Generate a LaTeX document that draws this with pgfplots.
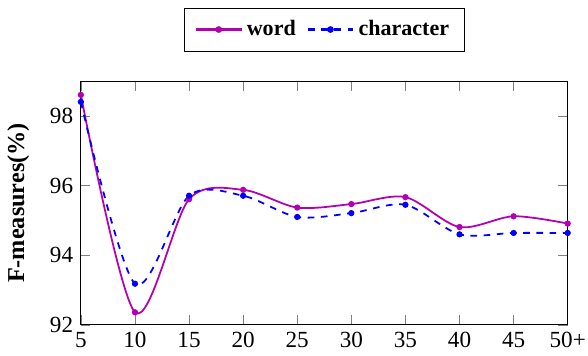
\documentclass[border=0pt]{standalone}
\usepackage{pgfplots}
\pgfplotsset{compat=1.18}
\usepackage{fontspec}
\setmainfont{Liberation Serif}
\definecolor{wordc}{rgb}{0.7,0,0.7}
\begin{document}
\begin{tikzpicture}
\begin{axis}[
  scale only axis,
  width=221pt, height=110.5pt,
  xmin=5, xmax=50, ymin=92, ymax=99,
  xtick={5,10,15,20,25,30,35,40,45,50},
  xticklabels={5,10,15,20,25,30,35,40,45,50+},
  ytick={92,94,96,98},
  /pgf/number format/assume math mode=true,
  tick label style={font=\fontsize{10.5}{12.5}\selectfont},
  xticklabel style={inner xsep=1pt},
  ylabel={\fontsize{11}{13}\selectfont\textbf{F-measures(\%)}},
  ylabel style={yshift=2.5pt},
  legend columns=2,
  legend image code/.code={\draw[line width=1pt,mark repeat=2,mark phase=2] plot coordinates {(0cm,0cm) (0.36cm,0cm) (0.72cm,0cm)};},
  legend style={at={(0.5,1.123)}, anchor=south, font=\bfseries, inner ysep=3.5pt, inner xsep=5pt,
    /tikz/every even column/.append style={column sep=3pt}},
  tick style={gray},
]
\addplot[wordc, thick, smooth, mark=*, mark size=1pt] coordinates {
(5,98.61) (10,92.36) (15,95.61) (20,95.88) (25,95.37) (30,95.47) (35,95.67) (40,94.81) (45,95.12) (50,94.91)
};
\addlegendentry{word}
\addplot[blue, thick, dashed, smooth, mark=*, mark size=1pt, mark options={solid}] coordinates {
(5,98.41) (10,93.18) (15,95.71) (20,95.71) (25,95.10) (30,95.21) (35,95.45) (40,94.60) (45,94.64) (50,94.64)
};
\addlegendentry{character}
\end{axis}
\path ([yshift=3.5pt]current bounding box.north) -- (current bounding box.north);
\end{tikzpicture}
\end{document}
